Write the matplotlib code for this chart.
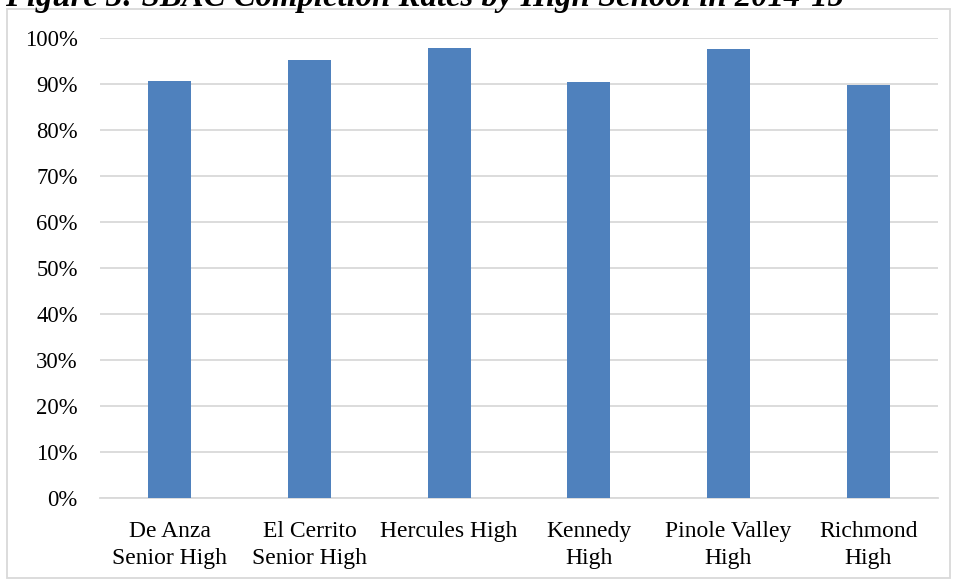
import matplotlib.pyplot as plt
from matplotlib.patches import Rectangle
from matplotlib.ticker import FuncFormatter

# Datos
escuelas = ['De Anza\nSenior High', 'El Cerrito\nSenior High', 'Hercules High',
            'Kennedy\nHigh', 'Pinole Valley\nHigh', 'Richmond\nHigh']
tasas = [0.906, 0.951, 0.977, 0.903, 0.976, 0.896]

titulo = 'Figure 3: SBAC Completion Rates by High School in 2014-15'

plt.rcParams['font.family'] = ['Liberation Serif', 'DejaVu Serif']

fig = plt.figure(figsize=(9.56, 5.8), dpi=100)
ax = fig.add_axes([100 / 956, 1 - 497.5 / 580, 838 / 956, 460 / 580])

x = range(len(escuelas))
ax.bar(x, tasas, width=0.31, color='#4f81bd', zorder=3)

ax.set_xlim(-0.5, len(escuelas) - 0.5)
ax.set_ylim(0, 1.0)
ax.set_yticks([i / 10 for i in range(11)])
ax.yaxis.set_major_formatter(FuncFormatter(lambda v, p: f'{v * 100:.0f}%'))
ax.set_xticks(list(x))
ax.set_xticklabels(escuelas, fontsize=17, linespacing=1.35)
ax.tick_params(axis='y', labelsize=16.3, length=0, pad=16)
ax.tick_params(axis='x', length=0, pad=17)

ax.grid(axis='y', color='#d9d9d9', linewidth=1.3, zorder=0)
for lado in ['top', 'right', 'left']:
    ax.spines[lado].set_visible(False)
ax.spines['bottom'].set_color('#d9d9d9')
ax.spines['bottom'].set_linewidth(1.3)

# Borde del area del grafico
fig.patches.append(Rectangle((7 / 956, 2 / 580), 943 / 956, 569 / 580,
                             transform=fig.transFigure, fill=False,
                             edgecolor='#d9d9d9', linewidth=1.3))

fig.text(5 / 956, 1 - 6 / 580, titulo, fontsize=23.6, fontweight='bold',
         fontstyle='italic', ha='left', va='baseline')

fig.savefig('out.png', dpi=100)
